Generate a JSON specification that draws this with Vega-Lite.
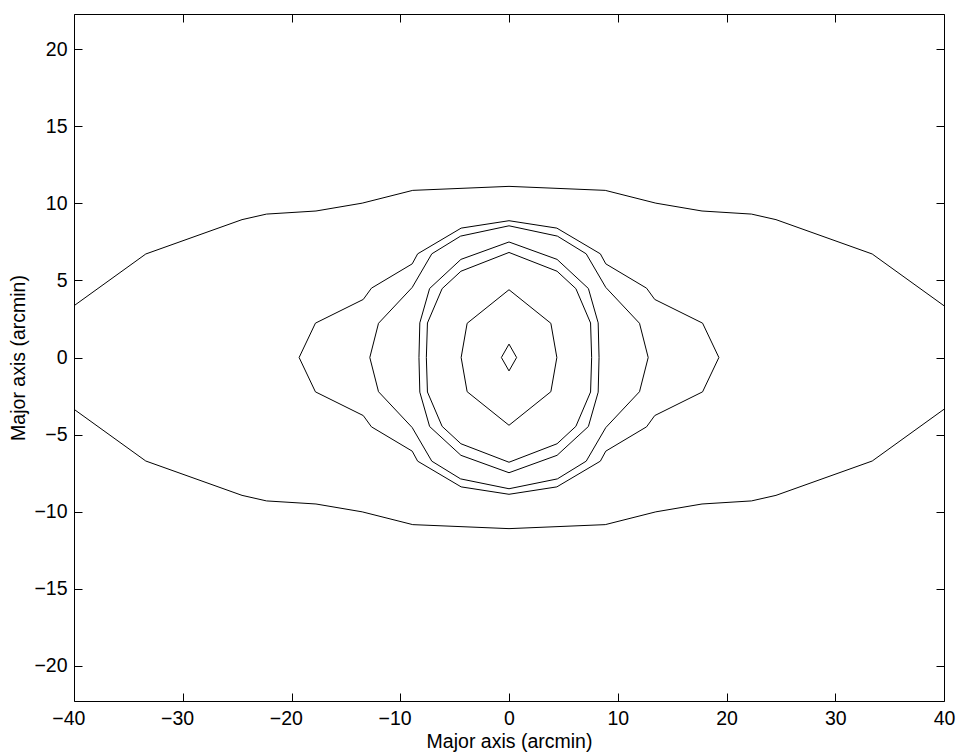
{
  "$schema": "https://vega.github.io/schema/vega-lite/v6.json",
  "width": 870,
  "height": 687,
  "autosize": {"type": "none"},
  "padding": {"left": 74, "top": 14, "right": 15, "bottom": 55},
  "background": "white",
  "config": {
    "view": {"stroke": "black", "strokeWidth": 1},
    "axis": {
      "domain": false,
      "grid": false,
      "offset": -8,
      "tickColor": "black",
      "tickSize": 8,
      "tickWidth": 1,
      "labelFont": "Liberation Sans",
      "labelFontSize": 19.5,
      "labelColor": "black",
      "labelFlush": false,
      "labelOverlap": false,
      "titleFont": "Liberation Sans",
      "titleFontSize": 19.5,
      "titleFontWeight": "normal",
      "titleColor": "black"
    }
  },
  "data": {"values": [
    {"c": "a", "i": 0, "x": -40, "y": 3.36},
    {"c": "a", "i": 1, "x": -33.4, "y": 6.72},
    {"c": "a", "i": 2, "x": -24.55, "y": 8.95},
    {"c": "a", "i": 3, "x": -22.3, "y": 9.31},
    {"c": "a", "i": 4, "x": -17.75, "y": 9.51},
    {"c": "a", "i": 5, "x": -13.5, "y": 10.02},
    {"c": "a", "i": 6, "x": -8.85, "y": 10.85},
    {"c": "a", "i": 7, "x": 0, "y": 11.11},
    {"c": "a", "i": 8, "x": 8.85, "y": 10.85},
    {"c": "a", "i": 9, "x": 13.5, "y": 10.02},
    {"c": "a", "i": 10, "x": 17.75, "y": 9.51},
    {"c": "a", "i": 11, "x": 22.3, "y": 9.31},
    {"c": "a", "i": 12, "x": 24.55, "y": 8.95},
    {"c": "a", "i": 13, "x": 33.4, "y": 6.72},
    {"c": "a", "i": 14, "x": 40, "y": 3.36},
    {"c": "b", "i": 0, "x": -40, "y": -3.36},
    {"c": "b", "i": 1, "x": -33.4, "y": -6.72},
    {"c": "b", "i": 2, "x": -24.55, "y": -8.95},
    {"c": "b", "i": 3, "x": -22.3, "y": -9.31},
    {"c": "b", "i": 4, "x": -17.75, "y": -9.51},
    {"c": "b", "i": 5, "x": -13.5, "y": -10.02},
    {"c": "b", "i": 6, "x": -8.85, "y": -10.85},
    {"c": "b", "i": 7, "x": 0, "y": -11.11},
    {"c": "b", "i": 8, "x": 8.85, "y": -10.85},
    {"c": "b", "i": 9, "x": 13.5, "y": -10.02},
    {"c": "b", "i": 10, "x": 17.75, "y": -9.51},
    {"c": "b", "i": 11, "x": 22.3, "y": -9.31},
    {"c": "b", "i": 12, "x": 24.55, "y": -8.95},
    {"c": "b", "i": 13, "x": 33.4, "y": -6.72},
    {"c": "b", "i": 14, "x": 40, "y": -3.36},
    {"c": "c2", "i": 0, "x": -19.3, "y": 0},
    {"c": "c2", "i": 1, "x": -17.8, "y": 2.23},
    {"c": "c2", "i": 2, "x": -13.4, "y": 3.77},
    {"c": "c2", "i": 3, "x": -12.65, "y": 4.5},
    {"c": "c2", "i": 4, "x": -8.9, "y": 6.08},
    {"c": "c2", "i": 5, "x": -8.4, "y": 6.73},
    {"c": "c2", "i": 6, "x": -4.4, "y": 8.4},
    {"c": "c2", "i": 7, "x": 0, "y": 8.88},
    {"c": "c2", "i": 8, "x": 4.4, "y": 8.4},
    {"c": "c2", "i": 9, "x": 8.4, "y": 6.73},
    {"c": "c2", "i": 10, "x": 8.9, "y": 6.08},
    {"c": "c2", "i": 11, "x": 12.65, "y": 4.5},
    {"c": "c2", "i": 12, "x": 13.4, "y": 3.77},
    {"c": "c2", "i": 13, "x": 17.8, "y": 2.23},
    {"c": "c2", "i": 14, "x": 19.3, "y": 0},
    {"c": "c2", "i": 15, "x": 17.8, "y": -2.23},
    {"c": "c2", "i": 16, "x": 13.4, "y": -3.77},
    {"c": "c2", "i": 17, "x": 12.65, "y": -4.5},
    {"c": "c2", "i": 18, "x": 8.9, "y": -6.08},
    {"c": "c2", "i": 19, "x": 8.4, "y": -6.73},
    {"c": "c2", "i": 20, "x": 4.4, "y": -8.4},
    {"c": "c2", "i": 21, "x": 0, "y": -8.88},
    {"c": "c2", "i": 22, "x": -4.4, "y": -8.4},
    {"c": "c2", "i": 23, "x": -8.4, "y": -6.73},
    {"c": "c2", "i": 24, "x": -8.9, "y": -6.08},
    {"c": "c2", "i": 25, "x": -12.65, "y": -4.5},
    {"c": "c2", "i": 26, "x": -13.4, "y": -3.77},
    {"c": "c2", "i": 27, "x": -17.8, "y": -2.23},
    {"c": "c2", "i": 28, "x": -19.3, "y": 0},
    {"c": "c3", "i": 0, "x": -12.8, "y": 0},
    {"c": "c3", "i": 1, "x": -12.0, "y": 2.22},
    {"c": "c3", "i": 2, "x": -8.9, "y": 4.55},
    {"c": "c3", "i": 3, "x": -7.1, "y": 6.73},
    {"c": "c3", "i": 4, "x": -4.45, "y": 7.88},
    {"c": "c3", "i": 5, "x": 0, "y": 8.55},
    {"c": "c3", "i": 6, "x": 4.45, "y": 7.88},
    {"c": "c3", "i": 7, "x": 7.1, "y": 6.73},
    {"c": "c3", "i": 8, "x": 8.9, "y": 4.55},
    {"c": "c3", "i": 9, "x": 12.0, "y": 2.22},
    {"c": "c3", "i": 10, "x": 12.8, "y": 0},
    {"c": "c3", "i": 11, "x": 12.0, "y": -2.22},
    {"c": "c3", "i": 12, "x": 8.9, "y": -4.55},
    {"c": "c3", "i": 13, "x": 7.1, "y": -6.73},
    {"c": "c3", "i": 14, "x": 4.45, "y": -7.88},
    {"c": "c3", "i": 15, "x": 0, "y": -8.52},
    {"c": "c3", "i": 16, "x": -4.45, "y": -7.88},
    {"c": "c3", "i": 17, "x": -7.1, "y": -6.73},
    {"c": "c3", "i": 18, "x": -8.9, "y": -4.55},
    {"c": "c3", "i": 19, "x": -12.0, "y": -2.22},
    {"c": "c3", "i": 20, "x": -12.8, "y": 0},
    {"c": "c4", "i": 0, "x": -8.28, "y": 0},
    {"c": "c4", "i": 1, "x": -8.2, "y": 2.25},
    {"c": "c4", "i": 2, "x": -7.3, "y": 4.48},
    {"c": "c4", "i": 3, "x": -4.42, "y": 6.37},
    {"c": "c4", "i": 4, "x": 0, "y": 7.5},
    {"c": "c4", "i": 5, "x": 4.42, "y": 6.37},
    {"c": "c4", "i": 6, "x": 7.3, "y": 4.48},
    {"c": "c4", "i": 7, "x": 8.2, "y": 2.25},
    {"c": "c4", "i": 8, "x": 8.28, "y": 0},
    {"c": "c4", "i": 9, "x": 8.2, "y": -2.25},
    {"c": "c4", "i": 10, "x": 7.3, "y": -4.48},
    {"c": "c4", "i": 11, "x": 4.42, "y": -6.35},
    {"c": "c4", "i": 12, "x": 0, "y": -7.48},
    {"c": "c4", "i": 13, "x": -4.42, "y": -6.35},
    {"c": "c4", "i": 14, "x": -7.3, "y": -4.48},
    {"c": "c4", "i": 15, "x": -8.2, "y": -2.25},
    {"c": "c4", "i": 16, "x": -8.28, "y": 0},
    {"c": "c5", "i": 0, "x": -7.6, "y": 0},
    {"c": "c5", "i": 1, "x": -7.5, "y": 2.24},
    {"c": "c5", "i": 2, "x": -6.15, "y": 4.47},
    {"c": "c5", "i": 3, "x": -4.42, "y": 5.6},
    {"c": "c5", "i": 4, "x": 0, "y": 6.82},
    {"c": "c5", "i": 5, "x": 4.42, "y": 5.6},
    {"c": "c5", "i": 6, "x": 6.15, "y": 4.47},
    {"c": "c5", "i": 7, "x": 7.5, "y": 2.24},
    {"c": "c5", "i": 8, "x": 7.6, "y": 0},
    {"c": "c5", "i": 9, "x": 7.5, "y": -2.24},
    {"c": "c5", "i": 10, "x": 6.15, "y": -4.47},
    {"c": "c5", "i": 11, "x": 4.42, "y": -5.6},
    {"c": "c5", "i": 12, "x": 0, "y": -6.8},
    {"c": "c5", "i": 13, "x": -4.42, "y": -5.6},
    {"c": "c5", "i": 14, "x": -6.15, "y": -4.47},
    {"c": "c5", "i": 15, "x": -7.5, "y": -2.24},
    {"c": "c5", "i": 16, "x": -7.6, "y": 0},
    {"c": "c6", "i": 0, "x": -4.4, "y": 0},
    {"c": "c6", "i": 1, "x": -3.85, "y": 2.22},
    {"c": "c6", "i": 2, "x": 0, "y": 4.4},
    {"c": "c6", "i": 3, "x": 3.85, "y": 2.22},
    {"c": "c6", "i": 4, "x": 4.4, "y": 0},
    {"c": "c6", "i": 5, "x": 3.85, "y": -2.22},
    {"c": "c6", "i": 6, "x": 0, "y": -4.4},
    {"c": "c6", "i": 7, "x": -3.85, "y": -2.22},
    {"c": "c6", "i": 8, "x": -4.4, "y": 0},
    {"c": "c7", "i": 0, "x": -0.7, "y": 0},
    {"c": "c7", "i": 1, "x": 0, "y": 0.87},
    {"c": "c7", "i": 2, "x": 0.7, "y": 0},
    {"c": "c7", "i": 3, "x": 0, "y": -0.87},
    {"c": "c7", "i": 4, "x": -0.7, "y": 0}
  ]},
  "layer": [
    {
      "mark": {"type": "line", "stroke": "black", "strokeWidth": 1, "clip": true},
      "encoding": {
        "x": {"field": "x", "type": "quantitative",
              "scale": {"domain": [-40, 40], "nice": false, "zero": false},
              "axis": {"orient": "bottom", "values": [-40, -30, -20, -10, 0, 10, 20, 30, 40],
                       "labelPadding": 8.5,
                       "labelOffset": {"condition": {"test": "datum.value < 0", "value": -5.7}, "value": 0},
                       "title": "Major axis (arcmin)", "titlePadding": 4}},
        "y": {"field": "y", "type": "quantitative",
              "scale": {"domain": [-22.3, 22.3], "nice": false, "zero": false},
              "axis": {"orient": "left", "values": [-20, -15, -10, -5, 0, 5, 10, 15, 20],
                       "labelPadding": 7, "title": "Major axis (arcmin)", "titlePadding": 5}},
        "detail": {"field": "c", "type": "nominal"},
        "order": {"field": "i", "type": "quantitative"}
      }
    },
    {
      "mark": {"type": "point", "opacity": 0},
      "encoding": {
        "x": {"field": "x", "type": "quantitative",
              "scale": {"domain": [-40, 40], "nice": false, "zero": false},
              "axis": {"orient": "top", "values": [-40, -30, -20, -10, 0, 10, 20, 30, 40],
                       "labels": false, "title": null}},
        "y": {"field": "y", "type": "quantitative",
              "scale": {"domain": [-22.3, 22.3], "nice": false, "zero": false},
              "axis": {"orient": "right", "values": [-20, -15, -10, -5, 0, 5, 10, 15, 20],
                       "labels": false, "title": null}}
      }
    }
  ],
  "resolve": {"scale": {"x": "independent", "y": "independent"}}
}
